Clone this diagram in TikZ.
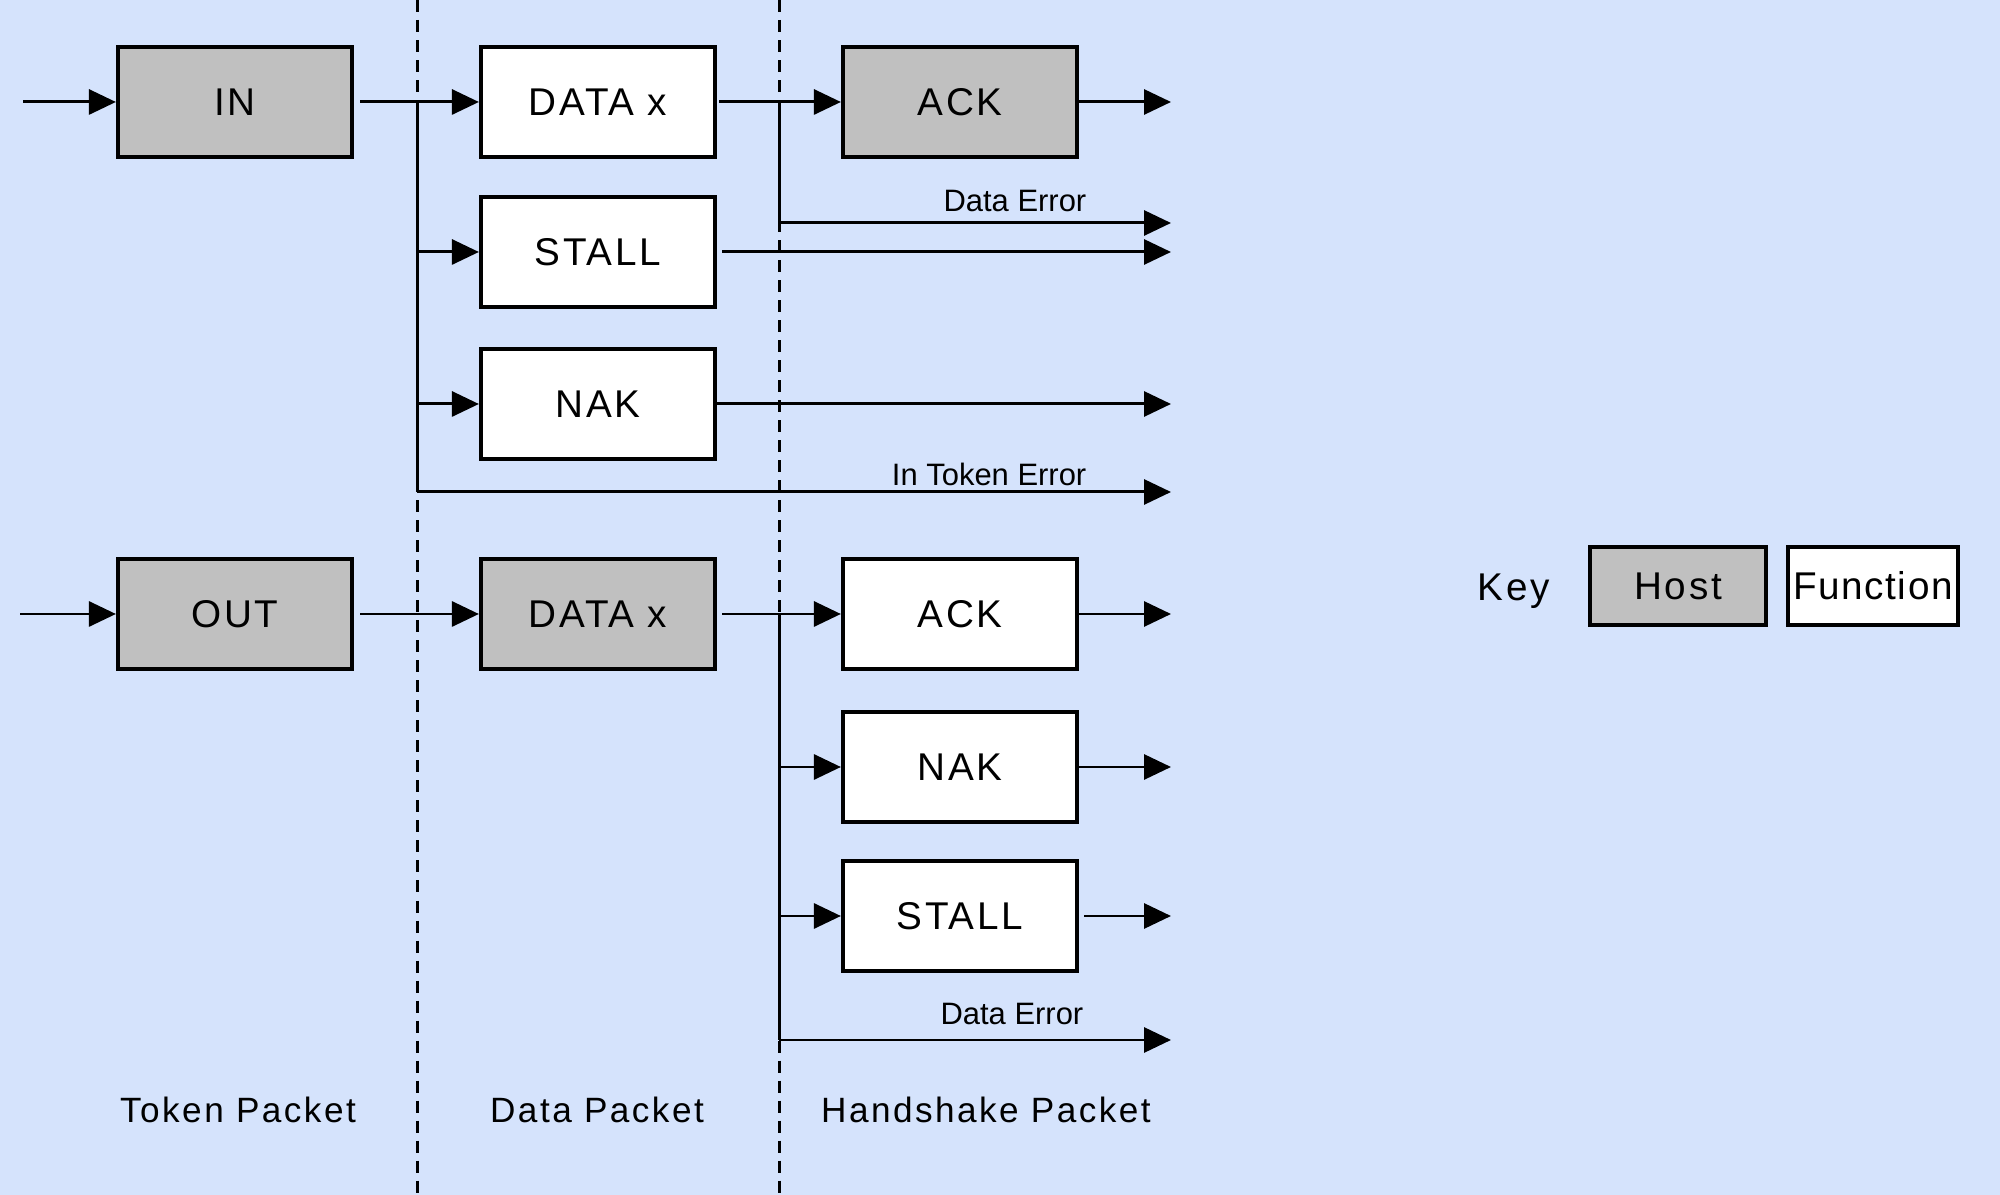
\documentclass[tikz,border=0pt]{standalone}
\usepackage{fontspec}
\setmainfont{Liberation Sans}
\newfontfamily\boxfont[LetterSpace=7]{Liberation Sans}
\usetikzlibrary{arrows.meta}
\definecolor{bgblue}{RGB}{213,227,252}
\definecolor{hostgray}{RGB}{192,192,192}
\begin{document}
\begin{tikzpicture}[x=0.01cm,y=-0.01cm,
  pbox/.style={draw=black, line width=1.15pt, minimum width=2.34cm, minimum height=1.1cm, inner sep=0pt,
     font=\boxfont\fontsize{11}{13}\selectfont},
  hostbox/.style={pbox, fill=hostgray},
  funcbox/.style={pbox, fill=white},
  wire/.style={line width=0.85pt},
  arr/.style={wire, -{Triangle[length=0.27cm,width=0.25cm]}},
  divider/.style={line width=0.85pt, dash pattern=on 0.12cm off 0.08cm},
  errlabel/.style={font=\fontsize{8.8}{10}\selectfont, inner sep=0pt, anchor=east},
  footlabel/.style={font=\boxfont\fontsize{10}{12}\selectfont, inner sep=0pt},
]
% background / bounding box
\path[fill=bgblue] (0,0) rectangle (2000,1195);
\useasboundingbox (0,0) rectangle (2000,1195);

% dividers
\draw[divider] (417,0) -- (417,1195);
\draw[divider] (779,0) -- (779,1195);

% ---------- IN transaction ----------
\node[hostbox] (in) at (235,102) {IN};
\node[funcbox] (data1) at (598,102) {DATA x};
\node[hostbox] (ack1) at (960,102) {ACK};
\node[funcbox] (stall1) at (598,252) {STALL};
\node[funcbox] (nak1) at (598,404) {NAK};

\coordinate (inS) at (23,102);
\coordinate (b1) at (417,102);
\coordinate (b2) at (779,102);
\coordinate (o1) at (1171,102);
\coordinate (oDE1) at (1171,223);
\coordinate (oST1) at (1171,252);
\coordinate (oNK1) at (1171,404);
\coordinate (oTE) at (1171,492);

\draw[arr] (inS) -- (in.west);
\draw[arr, shorten <=0.06cm] (in.east) -- (data1.west);
\draw[wire] (b1) -- (b1 |- oTE);
\draw[arr] (b1 |- stall1.west) -- (stall1.west);
\draw[arr] (b1 |- nak1.west) -- (nak1.west);
\draw[arr] (b1 |- oTE) -- (oTE);
\draw[arr, shorten <=0.02cm] (data1.east) -- (ack1.west);
\draw[wire] (b2) -- (b2 |- oDE1);
\draw[arr] (b2 |- oDE1) -- (oDE1);
\draw[arr] (ack1.east) -- (o1);
\draw[arr, shorten <=0.05cm] (stall1.east) -- (oST1);
\draw[arr] (nak1.east) -- (oNK1);

\node[errlabel] (lde1) at (1087,201) {Data Error};
\node[errlabel] (lte) at (1087,474) {In Token Error};

% ---------- OUT transaction ----------
\node[hostbox] (out) at (235,614) {OUT};
\node[hostbox] (data2) at (598,614) {DATA x};
\node[funcbox] (ack2) at (960,614) {ACK};
\node[funcbox] (nak2) at (960,767) {NAK};
\node[funcbox] (stall2) at (960,916) {STALL};

\coordinate (outS) at (20,614);
\coordinate (b3) at (779,614);
\coordinate (o2) at (1171,614);
\coordinate (oNK2) at (1171,767);
\coordinate (oST2) at (1171,916);
\coordinate (oDE2) at (1171,1040);

\draw[arr] (outS) -- (out.west);
\draw[arr, shorten <=0.06cm] (out.east) -- (data2.west);
\draw[arr, shorten <=0.05cm] (data2.east) -- (ack2.west);
\draw[wire] (b3) -- (b3 |- oDE2);
\draw[arr] (b3 |- nak2.west) -- (nak2.west);
\draw[arr] (b3 |- stall2.west) -- (stall2.west);
\draw[arr] (b3 |- oDE2) -- (oDE2);
\draw[arr] (ack2.east) -- (o2);
\draw[arr] (nak2.east) -- (oNK2);
\draw[arr, shorten <=0.05cm] (stall2.east) -- (oST2);

\node[errlabel] (lde2) at (1084,1014) {Data Error};

% ---------- footers ----------
\node[footlabel] (ft1) at (238,1110) {Token Packet};
\node[footlabel] (ft2) at (597,1110) {Data Packet};
\node[footlabel] (ft3) at (986,1110) {Handshake Packet};

% ---------- key ----------
\node[font=\boxfont\fontsize{11}{13}\selectfont, inner sep=0pt] (key) at (1514,591) {Key};
\node[hostbox, minimum width=1.75cm, minimum height=0.78cm] (khost) at (1678,586) {Host};
\node[funcbox, minimum width=1.7cm, minimum height=0.78cm, font=\fontsize{11}{13}\selectfont\addfontfeature{LetterSpace=4}] (kfunc) at (1873,586) {Function};
\end{tikzpicture}
\end{document}
